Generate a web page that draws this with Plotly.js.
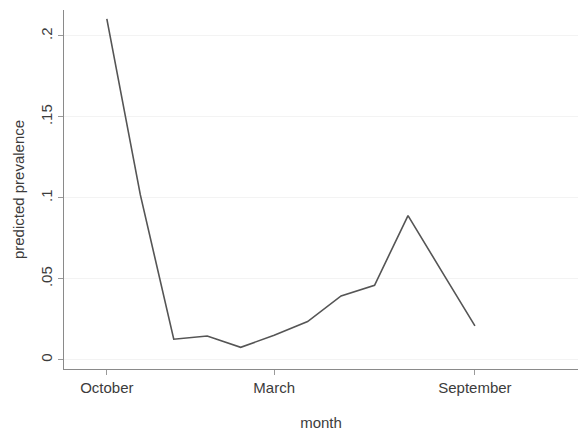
<!DOCTYPE html>
<html>
<head>
<meta charset="utf-8">
<script src="https://cdn.plot.ly/plotly-3.0.1.min.js"></script>
<style>html,body{margin:0;padding:0;background:#fff;}#chart{width:581px;height:431px;}</style>
</head>
<body>
<div id="chart"></div>
<script>
const months = ["October","November","December","January","February","March","April","May","June","July","August","September"];
const prevalence = [0.2105, 0.102, 0.0128, 0.0148, 0.0078, 0.0152, 0.0237, 0.0395, 0.0461, 0.0891, 0.055, 0.021];
const xTickIdx = [0, 5, 11];
const xTickText = ["October", "March", "September"];
const yTickVals = [0, 0.05, 0.1, 0.15, 0.2];
const yTickText = ["0", ".05", ".1", ".15", ".2"];

const xIndex = months.map((m, i) => i);

const trace = {
  x: xIndex,
  y: prevalence,
  text: months,
  type: "scatter",
  mode: "lines",
  line: {color: "#555555", width: 1.6},
  hoverinfo: "text+y"
};

const font = {family: "Liberation Sans, Arial, sans-serif", size: 15, color: "#3c3c3c"};

const layout = {
  width: 581, height: 431,
  margin: {l: 64, r: 3, t: 10, b: 62},
  paper_bgcolor: "#ffffff",
  plot_bgcolor: "#ffffff",
  showlegend: false,
  font: font,
  xaxis: {
    range: [-1.28, 14.08],
    tickmode: "array",
    tickvals: xTickIdx,
    ticktext: xTickText,
    showgrid: false,
    zeroline: false,
    showline: true,
    linecolor: "#8a8a8a",
    linewidth: 1.2,
    ticks: "outside",
    ticklen: 5,
    tickcolor: "#9a9a9a",
    tickfont: font,
    title: {text: "month", font: font, standoff: 22},
    automargin: false
  },
  yaxis: {
    range: [-0.0056, 0.216],
    tickmode: "array",
    tickvals: yTickVals,
    ticktext: yTickText,
    tickangle: -90,
    showgrid: true,
    gridcolor: "#f3f3f3",
    gridwidth: 1,
    zeroline: false,
    showline: true,
    linecolor: "#8a8a8a",
    linewidth: 1.2,
    ticks: "outside",
    ticklen: 5,
    tickcolor: "#9a9a9a",
    tickfont: font,
    title: {text: "predicted prevalence", font: font, standoff: 9},
    automargin: false
  }
};

Plotly.newPlot("chart", [trace], layout, {displayModeBar: false, staticPlot: true});
</script>
</body>
</html>
